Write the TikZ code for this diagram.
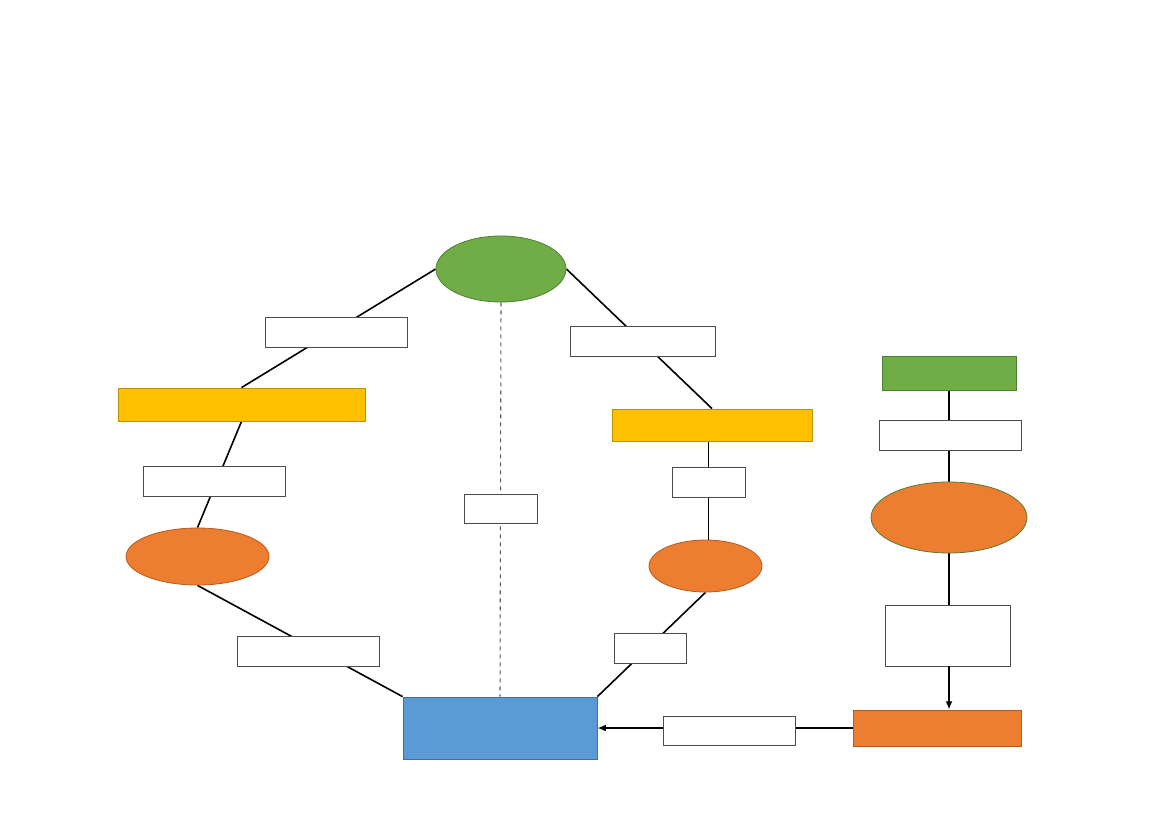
\documentclass[tikz,border=0pt]{standalone}
\usepackage{xcolor}
\usepackage{tikz}
\usetikzlibrary{shapes.geometric, arrows.meta, backgrounds}
\definecolor{dgreen}{HTML}{70AD47}
\definecolor{dgreenln}{HTML}{507E32}
\definecolor{dyellow}{HTML}{FFC000}
\definecolor{dyellowln}{HTML}{BF9000}
\definecolor{dorange}{HTML}{ED7D31}
\definecolor{dorangeln}{HTML}{B85A1E}
\definecolor{dblue}{HTML}{5B9BD5}
\definecolor{dblueln}{HTML}{41719C}
\tikzset{
  lbl/.style={rectangle, draw=black!70, fill=white, line width=0.6pt,
    minimum height=30*0.75pt},
  greenoval/.style={ellipse, draw=dgreenln, fill=dgreen, line width=0.6pt},
  orangeoval/.style={ellipse, draw=dorangeln, fill=dorange, line width=0.6pt},
  yellowbar/.style={rectangle, draw=dyellowln, fill=dyellow, line width=0.6pt},
  greenbar/.style={rectangle, draw=dgreenln, fill=dgreen, line width=0.6pt},
  orangebar/.style={rectangle, draw=dorangeln, fill=dorange, line width=0.6pt},
  bluebox/.style={rectangle, draw=dblueln, fill=dblue, line width=0.6pt},
  ln/.style={line width=1.2pt},
  ar/.style={-{Latex[length=2.2mm, width=1.8mm]}, line width=1.2pt},
  dln/.style={dashed, black!65, line width=0.8pt},
}
\begin{document}
\begin{tikzpicture}[x=0.75pt, y=-0.75pt]
  \useasboundingbox (0,0) rectangle (1169,827);

  % main shapes
  \node[greenoval, minimum width=130*0.75pt, minimum height=66*0.75pt] (top) at (501,269) {};
  \node[yellowbar, minimum width=247*0.75pt, minimum height=33*0.75pt] (yell) at (241.5,404.5) {};
  \node[orangeoval, minimum width=143*0.75pt, minimum height=57*0.75pt] (ovl) at (197.5,556.5) {};
  \node[yellowbar, minimum width=200*0.75pt, minimum height=32*0.75pt] (yelr) at (712,425) {};
  \node[orangeoval, minimum width=113*0.75pt, minimum height=52*0.75pt] (ovr) at (705.5,566) {};
  \node[bluebox, minimum width=194*0.75pt, minimum height=62*0.75pt] (goal) at (500,728) {};

  \node[greenbar, minimum width=134*0.75pt, minimum height=34*0.75pt] (src) at (949,373) {};
  \node[orangeoval, draw=dgreenln, minimum width=156*0.75pt, minimum height=71*0.75pt] (ovf) at (949,517.5) {};
  \node[lbl, minimum width=125*0.75pt, minimum height=61*0.75pt] (step) at (947.5,635.5) {};
  \node[orangebar, minimum width=168*0.75pt, minimum height=36*0.75pt] (outp) at (937,728) {};

  % label boxes on the connectors
  \node[lbl, minimum width=142*0.75pt] (la) at (336,332) {};
  \node[lbl, minimum width=142*0.75pt] (lb) at (214,481) {};
  \node[lbl, minimum width=142*0.75pt] (lc) at (308,651) {};
  \node[lbl, minimum width=145*0.75pt] (ra) at (642.5,341.5) {};
  \node[lbl, minimum width=73*0.75pt] (rb) at (708.5,482) {};
  \node[lbl, minimum width=72*0.75pt] (rc) at (650,648) {};
  \node[lbl, minimum width=73*0.75pt, minimum height=29*0.75pt] (mid) at (500.5,508.5) {};
  \node[lbl, minimum width=142*0.75pt] (fa) at (950,435) {};
  \node[lbl, minimum width=132*0.75pt, minimum height=29*0.75pt] (fb) at (729,730.5) {};

  \begin{scope}[on background layer]
    \draw[ln] (top.west) -- (yell.north);
    \draw[ln] (yell.south) -- (ovl.north);
    \draw[ln] (ovl.south) -- (goal.north west);
    \draw[ln] (top.east) -- (yelr.north);
    \draw[ln] (rb |- yelr.south) -- (rb |- ovr.north);
    \draw[ln] (ovr.south) -- (goal.north east);
    \draw[dln] (top.south) -- (goal.north);
    \draw[ln] (src.south) -- (ovf.north);
    \draw[ln] (ovf.south) -- (ovf.south |- step.north);
    \draw[ar] (outp.west) -- (goal.east);
  \end{scope}
  \draw[ar] (ovf.south |- step.south) -- (ovf.south |- outp.north);
\end{tikzpicture}
\end{document}
